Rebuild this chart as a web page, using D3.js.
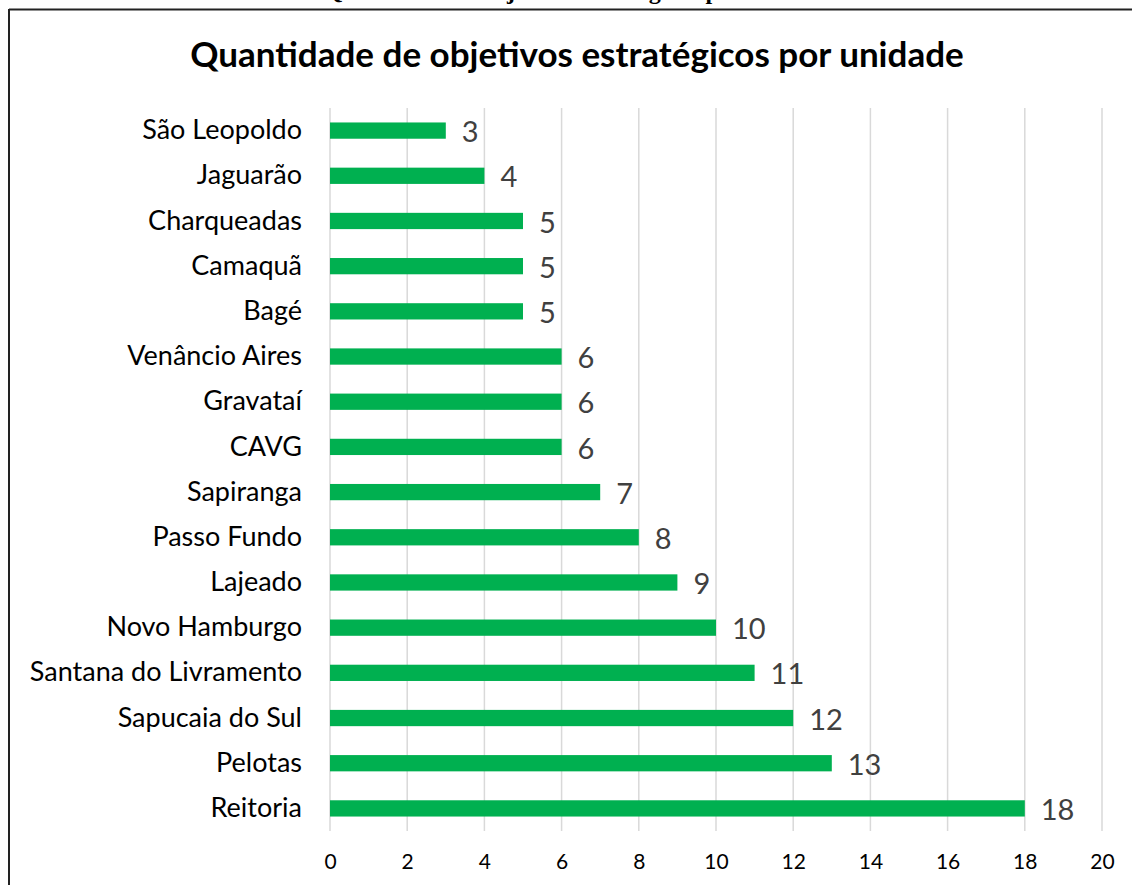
<!DOCTYPE html>
<html>
<head>
<meta charset="utf-8">
<script src="https://cdn.jsdelivr.net/npm/d3@7"></script>
<style>
  body { margin: 0; background: #fff; }
  svg { display: block; }
</style>
</head>
<body>
<div id="container"></div>
<script>
//---------- DATA ----------//
const units = ["São Leopoldo", "Jaguarão", "Charqueadas", "Camaquã", "Bagé",
    "Venâncio Aires", "Gravataí", "CAVG", "Sapiranga", "Passo Fundo", "Lajeado",
    "Novo Hamburgo", "Santana do Livramento", "Sapucaia do Sul", "Pelotas", "Reitoria"];
const counts = [3, 4, 5, 5, 5, 6, 6, 6, 7, 8, 9, 10, 11, 12, 13, 18];
const xTicks = [0, 2, 4, 6, 8, 10, 12, 14, 16, 18, 20];
const title = "Quantidade de objetivos estratégicos por unidade";

//---------- SVG ----------//
const width = 1132;
const height = 885;
const plot = {left: 330, right: 1102, top: 108, bottom: 831};
const font = "Lato, 'Open Sans', sans-serif";

const svg = d3.select("div#container")
    .append("svg")
    .attr("width", width)
    .attr("height", height);

// caption of the page above, cut off by the frame
svg.append("text")
    .attr("x", 577)
    .attr("y", -1)
    .attr("text-anchor", "middle")
    .style("font-family", "'Liberation Serif', serif")
    .style("font-weight", "bold")
    .style("font-size", "24px")
    .text(title);

// frame
svg.append("line")
    .attr("x1", 9).attr("x2", width)
    .attr("y1", 9.5).attr("y2", 9.5)
    .attr("stroke", "#222").attr("stroke-width", 2);
svg.append("line")
    .attr("x1", 9).attr("x2", 9)
    .attr("y1", 9).attr("y2", height)
    .attr("stroke", "#222").attr("stroke-width", 2);

//---------- SCALES ----------//
const xScale = d3.scaleLinear()
    .domain([0, 20])
    .range([plot.left, plot.right]);
const yScale = d3.scaleBand()
    .domain(units)
    .range([plot.top, plot.bottom])
    .paddingInner(0.64)
    .paddingOuter(0.32);

//---------- TITLE ----------//
svg.append("text")
    .attr("x", 577)
    .attr("y", 67)
    .attr("text-anchor", "middle")
    .style("font-family", font)
    .style("font-weight", "bold")
    .style("font-size", "35px")
    .text(title);

//---------- GRID ----------//
svg.append("g")
    .selectAll("line")
    .data(xTicks)
    .join("line")
    .attr("x1", d => xScale(d))
    .attr("x2", d => xScale(d))
    .attr("y1", plot.top)
    .attr("y2", plot.bottom)
    .attr("stroke", "#d9d9d9")
    .attr("stroke-width", 1.5);

//---------- AXES ----------//
const xAxis = svg.append("g")
    .attr("transform", `translate(0,${plot.bottom})`)
    .call(d3.axisBottom(xScale).tickValues(xTicks).tickSize(0).tickPadding(23));
xAxis.select(".domain").remove();
xAxis.selectAll("text")
    .style("font-family", font)
    .style("font-size", "21px")
    .attr("fill", "#000");

const yAxis = svg.append("g")
    .attr("transform", `translate(${plot.left},0)`)
    .call(d3.axisLeft(yScale).tickSize(0).tickPadding(28));
yAxis.select(".domain").remove();
yAxis.selectAll("text")
    .style("font-family", font)
    .style("font-size", "27px")
    .attr("fill", "#000");

//---------- BARS ----------//
svg.append("g")
    .selectAll("rect")
    .data(units)
    .join("rect")
    .attr("x", xScale(0))
    .attr("y", d => yScale(d))
    .attr("width", (d, i) => xScale(counts[i]) - xScale(0))
    .attr("height", yScale.bandwidth())
    .attr("fill", "#00b050");

//---------- VALUE LABELS ----------//
svg.append("g")
    .selectAll("text")
    .data(units)
    .join("text")
    .attr("x", (d, i) => xScale(counts[i]) + 16)
    .attr("y", d => yScale(d) + yScale.bandwidth() / 2)
    .attr("dy", "0.4em")
    .style("font-family", font)
    .style("font-size", "29px")
    .attr("fill", "#404040")
    .text((d, i) => counts[i]);
</script>
</body>
</html>
